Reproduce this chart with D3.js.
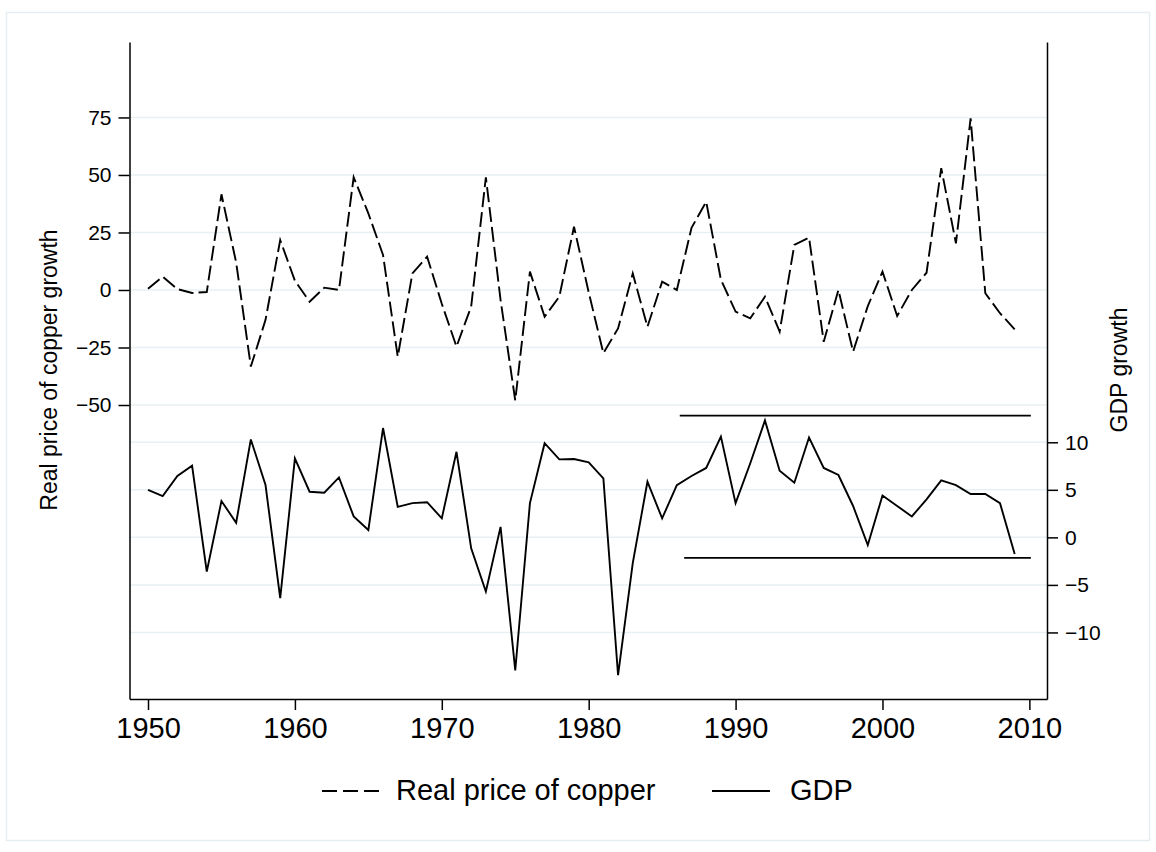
<!DOCTYPE html>
<html>
<head>
<meta charset="utf-8">
<script src="https://cdn.jsdelivr.net/npm/d3@7"></script>
<style>
  body { margin: 0; background: #fff; }
  text { font-family: "Liberation Sans", Arial, sans-serif; fill: #000; }
</style>
</head>
<body>
<svg id="chart"></svg>
<script>
// Data
const years = d3.range(1950, 2010);
const copperGrowth = [
  0.5, 5.8, 0.4, -1.3, -0.9, 41.6, 12, -33.3, -13, 21.7,
  4, -5.1, 1, 0, 49, 33.3, 15.2, -29, 7.2, 14.5,
  -6, -24.6, -7.2, 49, -4.3, -48, 8, -11.6, -2.9, 27.5,
  -1, -27.5, -16.7, 7.2, -16, 3.6, 0, 27, 38.4, 4.5,
  -9.4, -12.3, -2.9, -18.1, 19.6, 22.8, -22.5, 0, -26.8, -7,
  8, -11.3, 0, 7.5, 53, 20.3, 74.6, -1.4, -10.1, -17.1
];
const gdpGrowth = [
  5.0, 4.35, 6.45, 7.54, -3.6, 3.82, 1.54, 10.3, 5.5, -6.4,
  8.3, 4.8, 4.7, 6.3, 2.2, 0.77, 11.5, 3.2, 3.6, 3.7,
  2.0, 9.0, -1.16, -5.7, 1.1, -14.0, 3.6, 9.9, 8.2, 8.24,
  7.9, 6.2, -14.5, -2.7, 5.85, 2.0, 5.5, 6.45, 7.3, 10.6,
  3.6, 7.8, 12.3, 7.0, 5.75, 10.5, 7.3, 6.56, 3.3, -0.8,
  4.4, 3.3, 2.2, 4.0, 6.0, 5.5, 4.56, 4.56, 3.6, -1.76
];
const refValues = [12.8, -2.15];
const refStart = [1986.2, 1986.5];
const refEnd = [2010.1, 2010.1];
const xTicks = [1950, 1960, 1970, 1980, 1990, 2000, 2010];
const leftTicks = [-50, -25, 0, 25, 50, 75];
const rightTicks = [-10, -5, 0, 5, 10];
const seriesNames = ['Real price of copper', 'GDP'];

const W = 1156, H = 852;
const svg = d3.select('#chart').attr('width', W).attr('height', H);

// outer frame
svg.append('rect')
  .attr('x', 6.5).attr('y', 12.5)
  .attr('width', 1143).attr('height', 828)
  .attr('fill', '#fff')
  .attr('stroke', '#e6eef1')
  .attr('stroke-width', 1.5);

const plot = { left: 129.5, right: 1047, top: 42, bottom: 699 };

const x = d3.scaleLinear().domain([1948.74, 2011.2]).range([plot.left, plot.right]);
const yL = d3.scaleLinear().domain([-177.8, 107.8]).range([plot.bottom, plot.top]);
const yR = d3.scaleLinear().domain([-17.0, 52.1]).range([plot.bottom, plot.top]);

// gridlines
const grid = svg.append('g');
grid.selectAll('.gl').data(leftTicks).enter().append('line')
  .attr('x1', plot.left).attr('x2', plot.right)
  .attr('y1', d => yL(d)).attr('y2', d => yL(d))
  .attr('stroke', '#e8f0f3').attr('stroke-width', 1.5);
grid.selectAll('.gr').data(rightTicks).enter().append('line')
  .attr('x1', plot.left).attr('x2', plot.right)
  .attr('y1', d => yR(d)).attr('y2', d => yR(d))
  .attr('stroke', '#e8f0f3').attr('stroke-width', 1.5);

// axes
const xAxis = svg.append('g')
  .attr('transform', `translate(0, ${plot.bottom})`)
  .call(d3.axisBottom(x).tickValues(xTicks).tickFormat(d3.format('d')).tickSize(11).tickSizeOuter(0).tickPadding(7));
xAxis.selectAll('text').style('font-size', '29px');

const leftAxis = svg.append('g')
  .attr('transform', `translate(${plot.left}, 0)`)
  .call(d3.axisLeft(yL).tickValues(leftTicks).tickSize(11).tickSizeOuter(0).tickPadding(7));
leftAxis.selectAll('text').style('font-size', '21px');

const rightAxis = svg.append('g')
  .attr('transform', `translate(${plot.right}, 0)`)
  .call(d3.axisRight(yR).tickValues(rightTicks).tickSize(11).tickSizeOuter(0).tickPadding(7)
    .tickFormat(d => d < 0 ? '\u2212' + Math.abs(d) : d));
rightAxis.selectAll('text').style('font-size', '21px');

svg.selectAll('.domain, .tick line').attr('stroke', '#000').attr('stroke-width', 1.5);
svg.selectAll('.tick text').attr('fill', '#000').attr('font-family', '"Liberation Sans", Arial, sans-serif');

// axis titles
svg.append('text')
  .attr('transform', `translate(57, 370) rotate(-90)`)
  .attr('text-anchor', 'middle')
  .style('font-size', '23px')
  .text('Real price of copper growth');
svg.append('text')
  .attr('transform', `translate(1127, 370) rotate(-90)`)
  .attr('text-anchor', 'middle')
  .style('font-size', '23px')
  .text('GDP growth');

// reference lines
svg.selectAll('.ref').data(refValues).enter().append('line')
  .attr('x1', (d, i) => x(refStart[i])).attr('x2', (d, i) => x(refEnd[i]))
  .attr('y1', d => yR(d)).attr('y2', d => yR(d))
  .attr('stroke', '#000').attr('stroke-width', 1.7);

// series
const copperLine = d3.line().x((d, i) => x(years[i])).y(d => yL(d));
const gdpLine = d3.line().x((d, i) => x(years[i])).y(d => yR(d));

svg.append('path')
  .datum(copperGrowth)
  .attr('d', copperLine)
  .attr('fill', 'none')
  .attr('stroke', '#000')
  .attr('stroke-width', 1.9)
  .attr('stroke-dasharray', '15,5');

svg.append('path')
  .datum(gdpGrowth)
  .attr('d', gdpLine)
  .attr('fill', 'none')
  .attr('stroke', '#000')
  .attr('stroke-width', 1.9);

// legend
const legend = svg.append('g');
legend.append('line')
  .attr('x1', 322).attr('x2', 379).attr('y1', 791).attr('y2', 791)
  .attr('stroke', '#000').attr('stroke-width', 1.9).attr('stroke-dasharray', '15,6');
legend.append('text')
  .attr('x', 396).attr('y', 800)
  .style('font-size', '29px')
  .text(seriesNames[0]);
legend.append('line')
  .attr('x1', 712).attr('x2', 770).attr('y1', 791).attr('y2', 791)
  .attr('stroke', '#000').attr('stroke-width', 1.9);
legend.append('text')
  .attr('x', 790).attr('y', 800)
  .style('font-size', '29px')
  .text(seriesNames[1]);
</script>
</body>
</html>
